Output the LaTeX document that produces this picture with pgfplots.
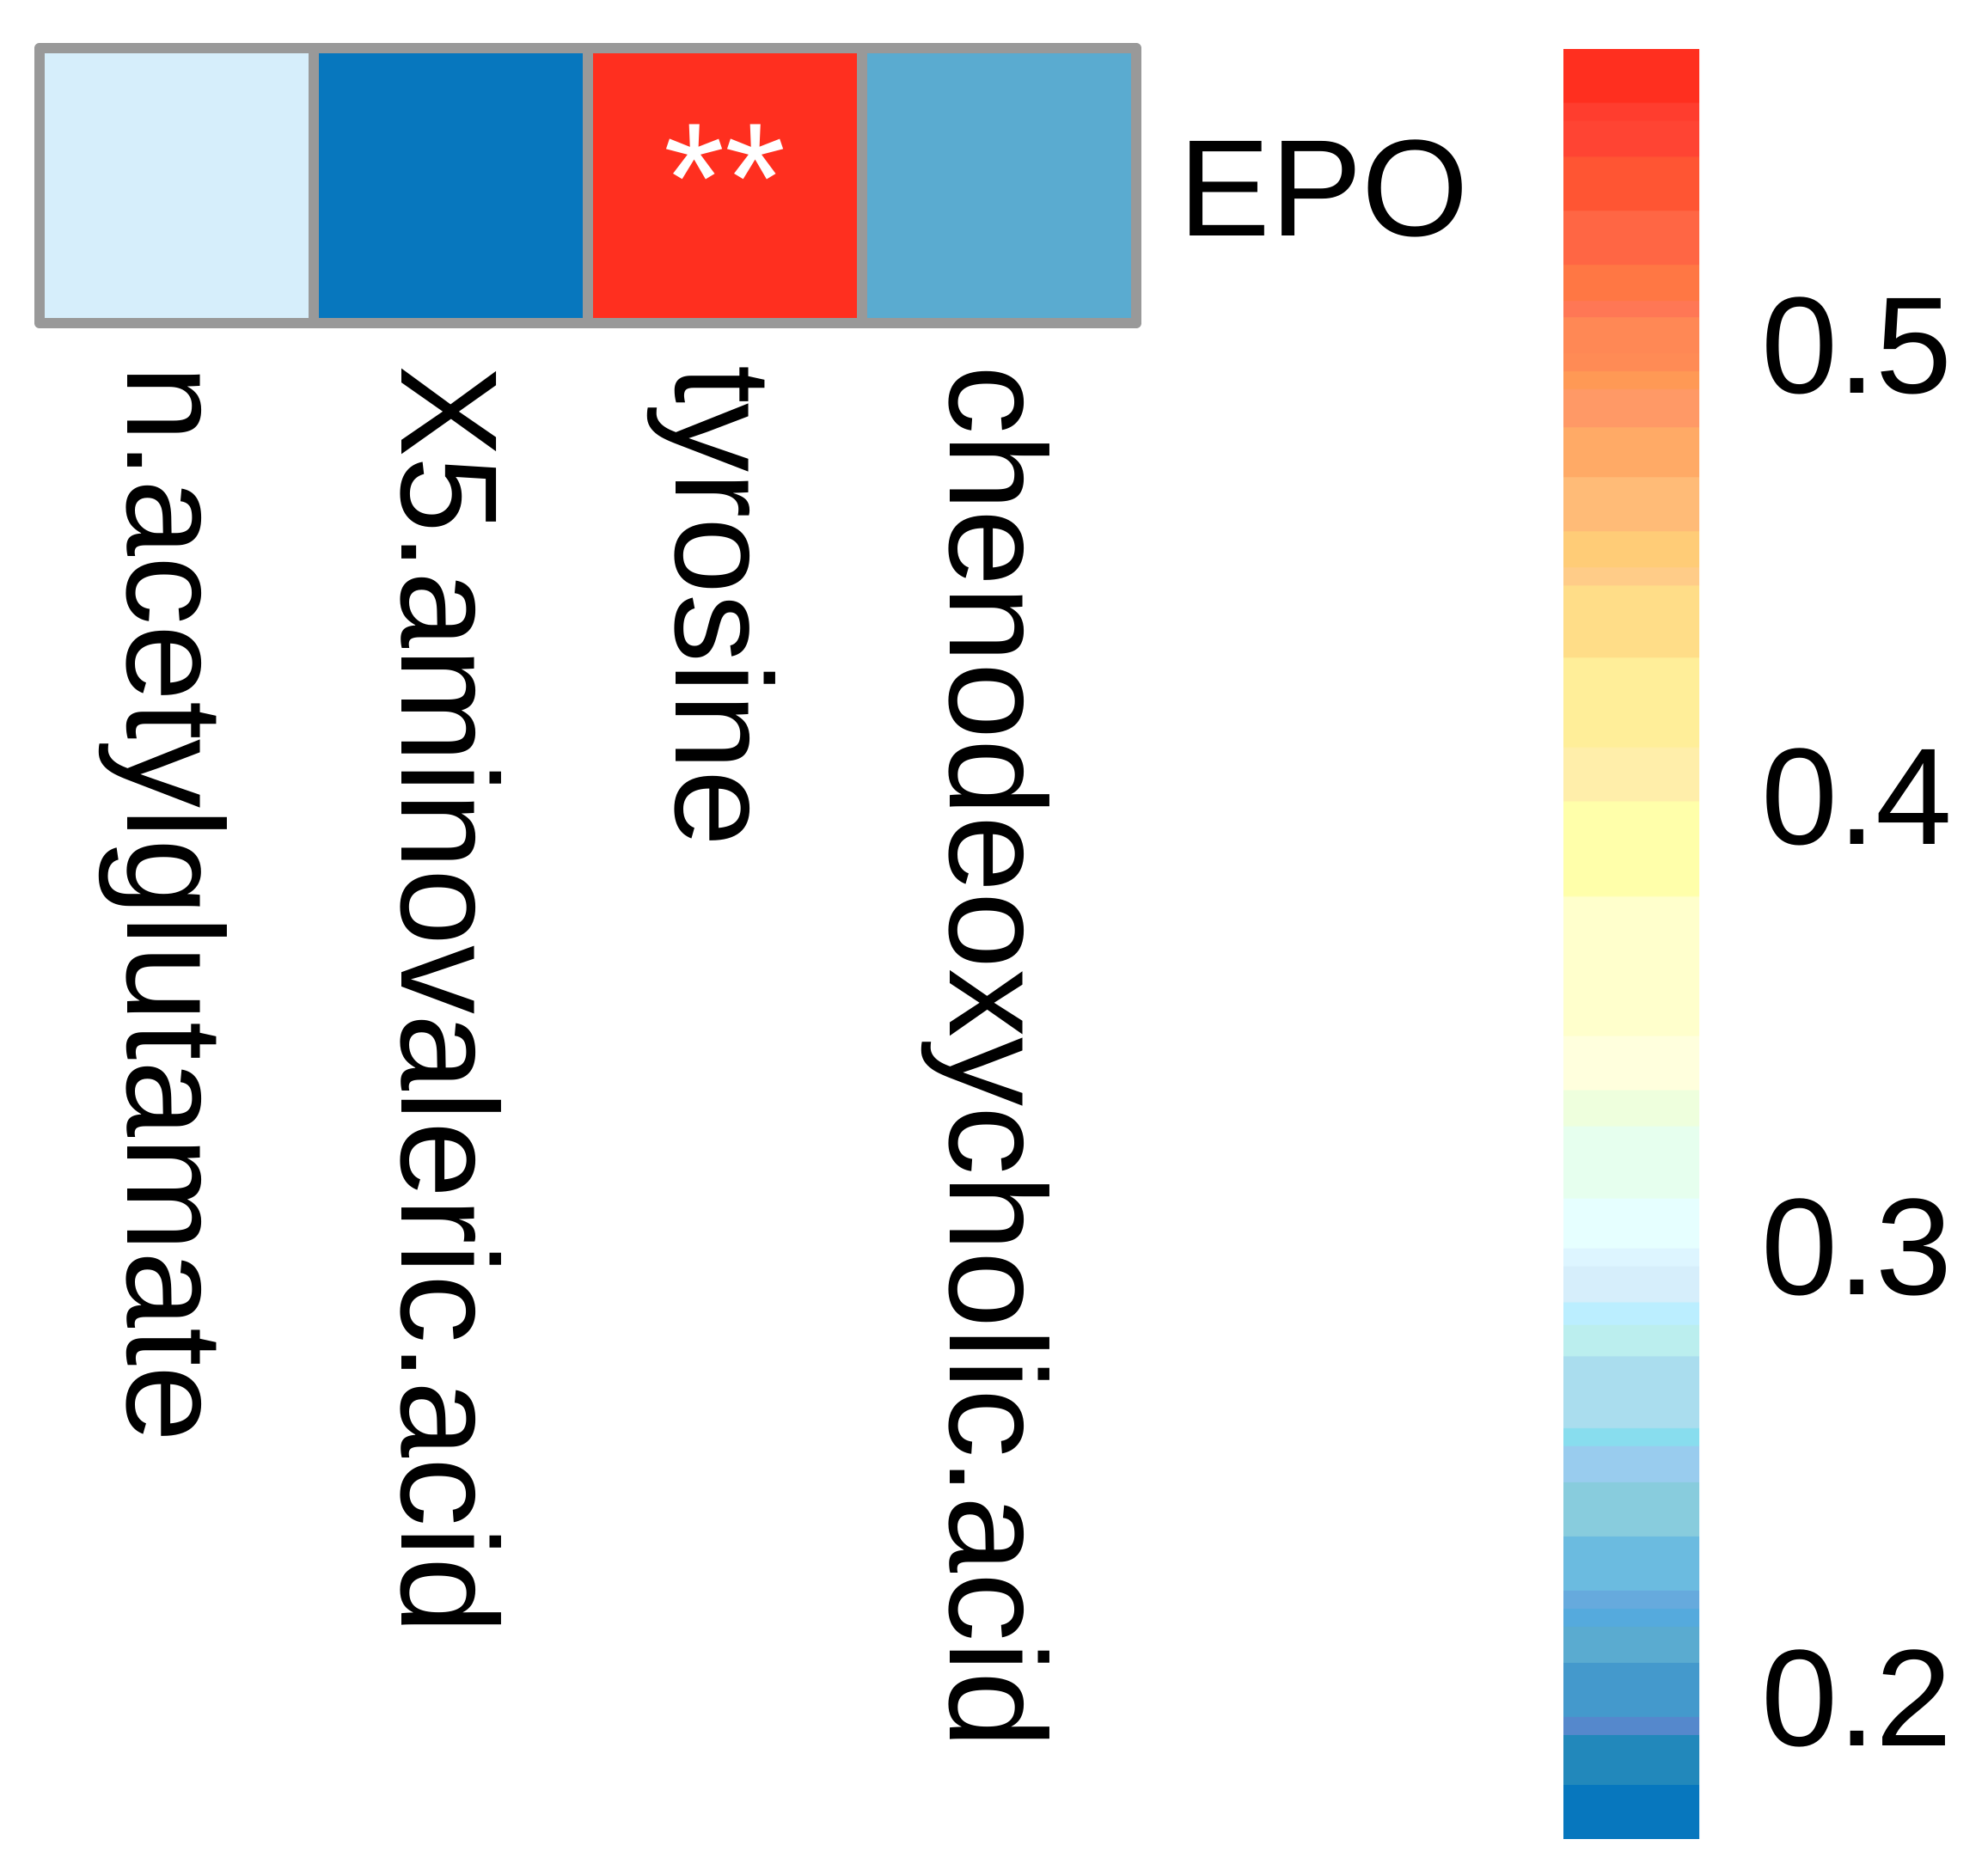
\documentclass[border=0pt]{standalone}
\usepackage{pgfplots}
\pgfplotsset{compat=1.18}
\usepackage{fontspec}
\setmainfont{Liberation Sans}
\definecolor{gridgray}{RGB}{153,153,153}
\newcommand{\bigfont}{\fontsize{32}{38}\selectfont}
\newcommand{\astfont}{\fontsize{36.5}{40}\selectfont}
\pgfplotsset{colormap={epo}{
rgb255(169pt)=(7,119,190) rgb255(180.95pt)=(7,119,190)
rgb255(181pt)=(34,136,187) rgb255(191.95pt)=(34,136,187)
rgb255(192pt)=(85,136,204) rgb255(195.95pt)=(85,136,204)
rgb255(196pt)=(68,153,204) rgb255(207.95pt)=(68,153,204)
rgb255(208pt)=(90,171,208) rgb255(215.95pt)=(90,171,208)
rgb255(216pt)=(85,170,221) rgb255(219.95pt)=(85,170,221)
rgb255(220pt)=(102,170,221) rgb255(223.95pt)=(102,170,221)
rgb255(224pt)=(107,187,224) rgb255(235.95pt)=(107,187,224)
rgb255(236pt)=(136,204,221) rgb255(247.95pt)=(136,204,221)
rgb255(248pt)=(153,204,238) rgb255(255.95pt)=(153,204,238)
rgb255(256pt)=(136,221,238) rgb255(259.95pt)=(136,221,238)
rgb255(260pt)=(170,221,238) rgb255(275.95pt)=(170,221,238)
rgb255(276pt)=(187,238,238) rgb255(282.95pt)=(187,238,238)
rgb255(283pt)=(187,238,255) rgb255(287.95pt)=(187,238,255)
rgb255(288pt)=(214,238,251) rgb255(295.95pt)=(214,238,251)
rgb255(296pt)=(221,245,255) rgb255(299.95pt)=(221,245,255)
rgb255(300pt)=(230,255,255) rgb255(310.95pt)=(230,255,255)
rgb255(311pt)=(230,255,238) rgb255(326.95pt)=(230,255,238)
rgb255(327pt)=(238,255,221) rgb255(334.95pt)=(238,255,221)
rgb255(335pt)=(255,255,221) rgb255(346.95pt)=(255,255,221)
rgb255(347pt)=(255,255,204) rgb255(377.95pt)=(255,255,204)
rgb255(378pt)=(255,255,170) rgb255(398.95pt)=(255,255,170)
rgb255(399pt)=(255,238,170) rgb255(410.95pt)=(255,238,170)
rgb255(411pt)=(255,238,153) rgb255(430.95pt)=(255,238,153)
rgb255(431pt)=(255,221,136) rgb255(446.95pt)=(255,221,136)
rgb255(447pt)=(255,204,136) rgb255(450.95pt)=(255,204,136)
rgb255(451pt)=(255,204,119) rgb255(458.95pt)=(255,204,119)
rgb255(459pt)=(255,187,119) rgb255(470.95pt)=(255,187,119)
rgb255(471pt)=(255,170,102) rgb255(481.95pt)=(255,170,102)
rgb255(482pt)=(255,153,102) rgb255(490.45pt)=(255,153,102)
rgb255(490.5pt)=(255,153,85) rgb255(494.45pt)=(255,153,85)
rgb255(494.5pt)=(255,139,85) rgb255(498.45pt)=(255,139,85)
rgb255(498.5pt)=(255,136,85) rgb255(506.45pt)=(255,136,85)
rgb255(506.5pt)=(255,119,85) rgb255(509.95pt)=(255,119,85)
rgb255(510pt)=(255,119,68) rgb255(517.95pt)=(255,119,68)
rgb255(518pt)=(255,102,68) rgb255(529.95pt)=(255,102,68)
rgb255(530pt)=(255,85,51) rgb255(541.95pt)=(255,85,51)
rgb255(542pt)=(255,68,51) rgb255(549.95pt)=(255,68,51)
rgb255(550pt)=(255,61,46) rgb255(553.95pt)=(255,61,46)
rgb255(554pt)=(255,47,31) rgb255(566pt)=(255,47,31)
}}
\begin{document}
\begin{tikzpicture}
\useasboundingbox (0pt,0pt) rectangle (462.6pt,-436.4pt);
\begin{axis}[
  at={(9.2pt,-75.2pt)}, anchor=south west,
  scale only axis, width=255.2pt, height=64pt,
  xmin=-0.5, xmax=3.5, ymin=-0.5, ymax=0.5,
  hide axis, clip=false,
  colormap name=epo,
  point meta min=0.169, point meta max=0.566,
  colorbar,
  colorbar/width=31.6pt,
  colorbar style={
    anchor=north west, at={(parent axis.north east)}, xshift=90.9pt, yshift=0pt,
    scale only axis, width=31.6pt, height=416.6pt,
    ytick={0.2,0.3,0.4,0.5}, yticklabels={0.2,0.3,0.4,0.5},
    major tick length=0pt,
    axis line style={draw=none},
    tick style={draw=none},
    yticklabel style={font=\bigfont, anchor=west, inner sep=0pt, xshift=14.2pt},
  },
]
\addplot[matrix plot*, mesh/cols=4, mesh/rows=2, point meta=explicit] table[meta=c] {
x y c
0 -0.25 0.292
1 -0.25 0.172
2 -0.25 0.560
3 -0.25 0.212
0 0.25 0.292
1 0.25 0.172
2 0.25 0.560
3 0.25 0.212
};
\draw[gridgray, line width=2.5pt, line join=round] (axis cs:-0.5,-0.5) rectangle (axis cs:3.5,0.5);
\draw[gridgray, line width=2.5pt] (axis cs:0.5,-0.5) -- (axis cs:0.5,0.5);
\draw[gridgray, line width=2.5pt] (axis cs:1.5,-0.5) -- (axis cs:1.5,0.5);
\draw[gridgray, line width=2.5pt] (axis cs:2.5,-0.5) -- (axis cs:2.5,0.5);
\node[white, font=\astfont, anchor=north, inner sep=0pt] at (axis cs:2,0.225) {**};
\end{axis}
\node[rotate=-90, anchor=base west, inner sep=0pt, font=\bigfont] at (29.6pt,-84.8pt) {n.acetylglutamate};
\node[rotate=-90, anchor=base west, inner sep=0pt, font=\bigfont] at (93.4pt,-84.8pt) {X5.aminovaleric.acid};
\node[rotate=-90, anchor=base west, inner sep=0pt, font=\bigfont] at (157.2pt,-84.8pt) {tyrosine};
\node[rotate=-90, anchor=base west, inner sep=0pt, font=\bigfont] at (221.0pt,-84.8pt) {chenodeoxycholic.acid};
\node[anchor=base west, inner sep=0pt, font=\bigfont] at (274.1pt,-54.8pt) {EPO};
\end{tikzpicture}
\end{document}
